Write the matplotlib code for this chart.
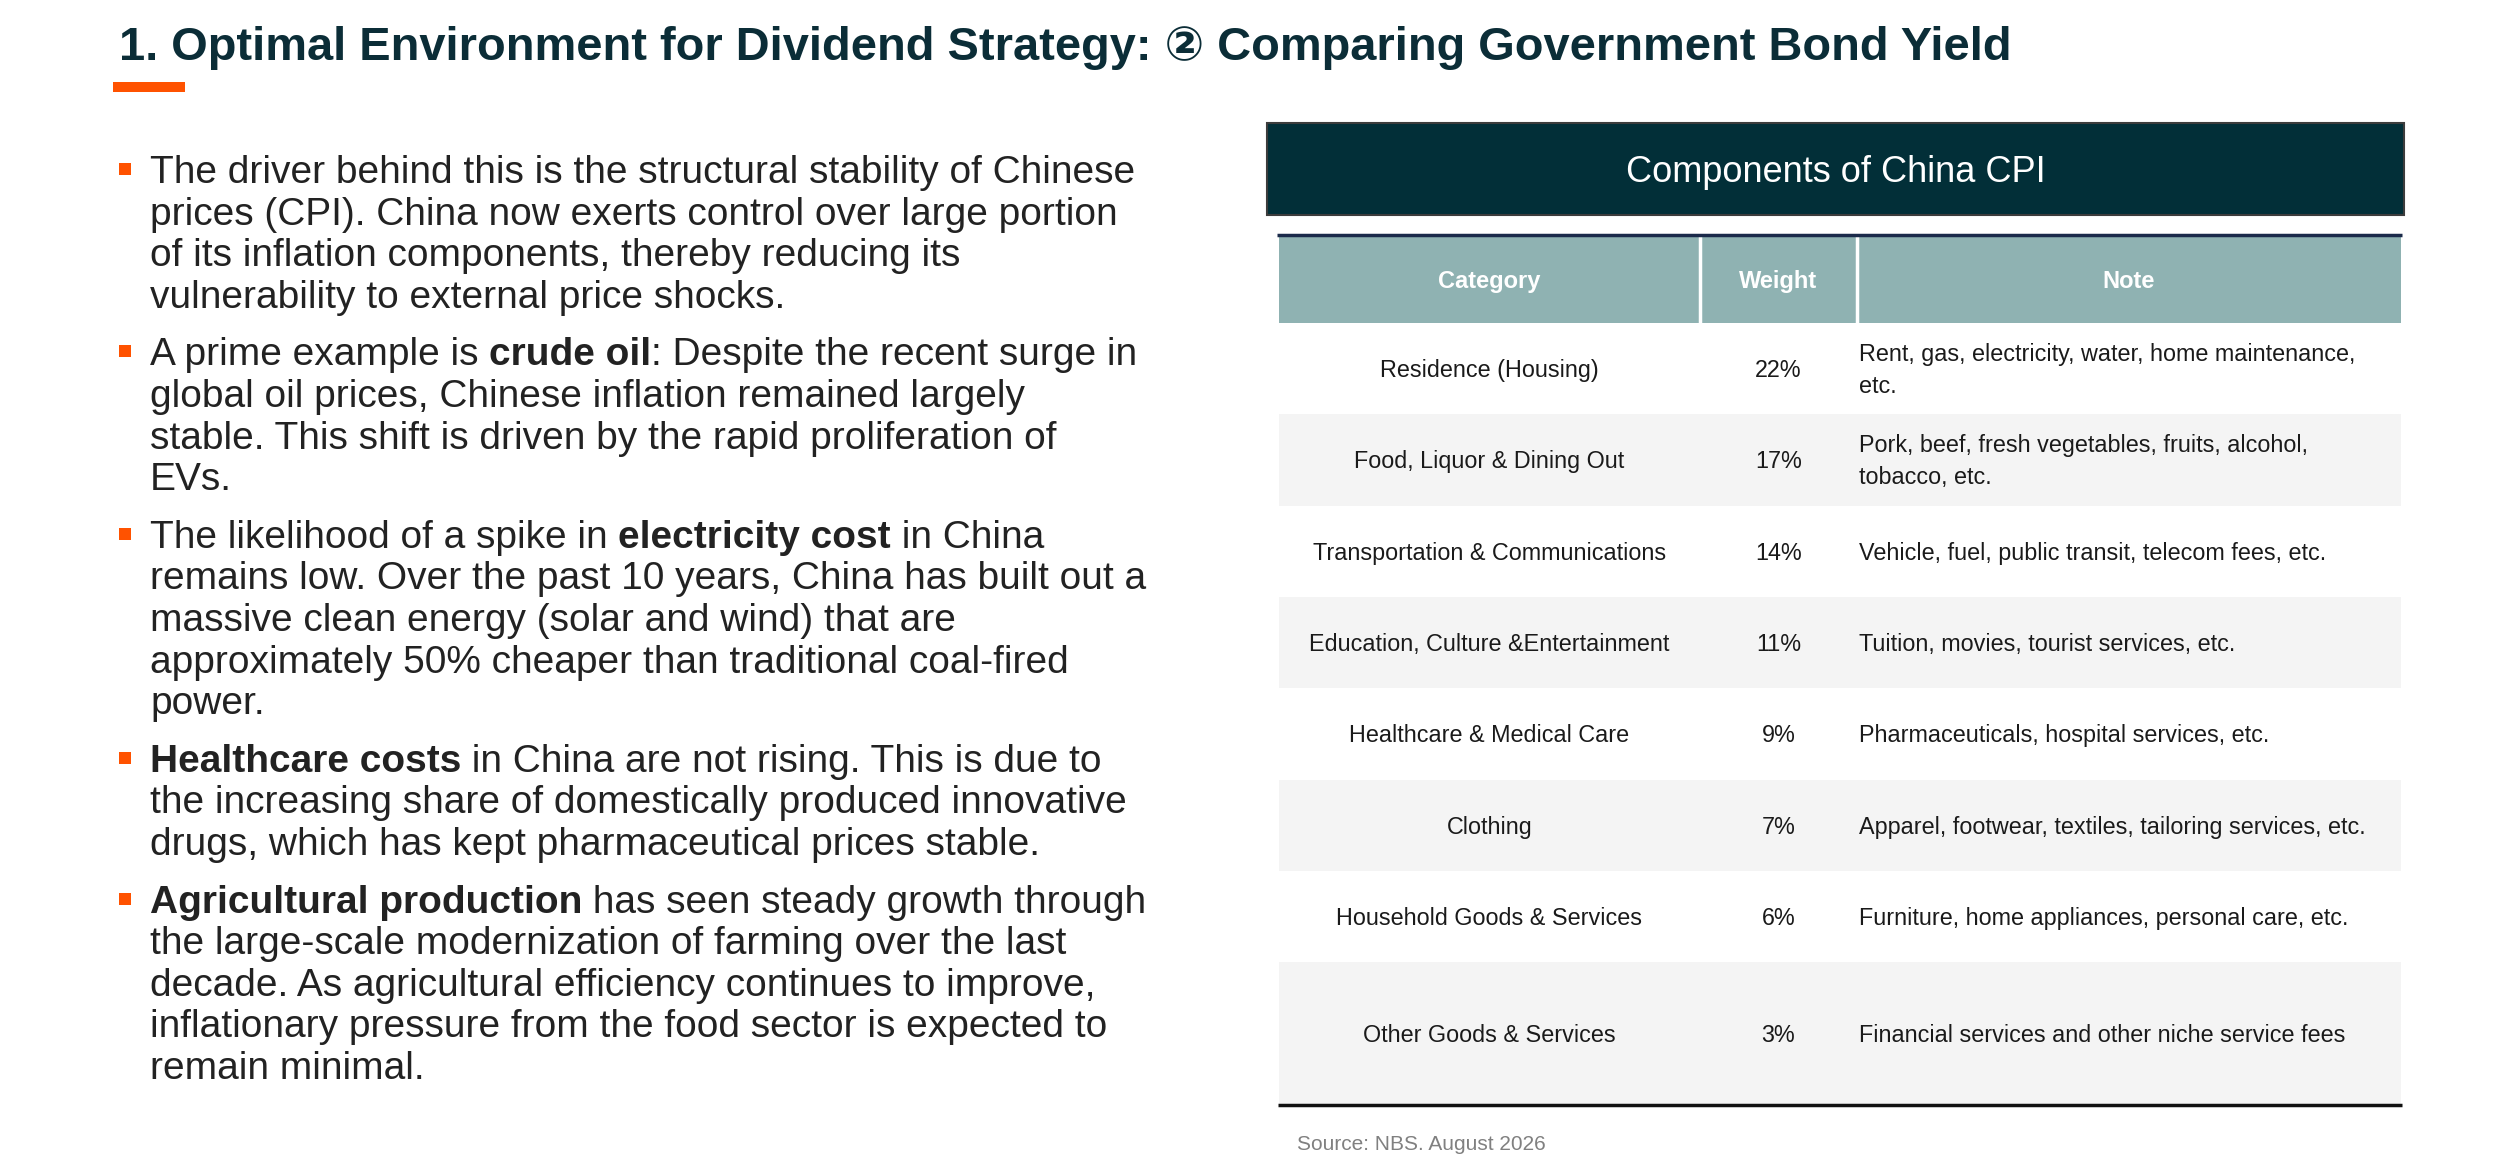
import matplotlib
matplotlib.use("Agg")
import matplotlib.pyplot as plt
from matplotlib.patches import Rectangle

plt.rcParams['font.family'] = ['Liberation Sans', 'DejaVu Sans']

# ---- content ----
title = "1. Optimal Environment for Dividend Strategy: \u2461 Comparing Government Bond Yield"
table_title = "Components of China CPI"
columns = ["Category", "Weight", "Note"]
categories = ["Residence (Housing)", "Food, Liquor & Dining Out",
              "Transportation & Communications", "Education, Culture &Entertainment",
              "Healthcare & Medical Care", "Clothing", "Household Goods & Services",
              "Other Goods & Services"]
weights = ["22%", "17%", "14%", "11%", "9%", "7%", "6%", "3%"]
notes = [["Rent, gas, electricity, water, home maintenance,", "etc."],
         ["Pork, beef, fresh vegetables, fruits, alcohol,", "tobacco, etc."],
         ["Vehicle, fuel, public transit, telecom fees, etc."],
         ["Tuition, movies, tourist services, etc."],
         ["Pharmaceuticals, hospital services, etc."],
         ["Apparel, footwear, textiles, tailoring services, etc."],
         ["Furniture, home appliances, personal care, etc."],
         ["Financial services and other niche service fees"]]
source = "Source: NBS. August 2026"

# **...** marks bold words
bullets = [
    ["The driver behind this is the structural stability of Chinese",
     "prices (CPI). China now exerts control over large portion",
     "of its inflation components, thereby reducing its",
     "vulnerability to external price shocks."],
    ["A prime example is **crude oil**: Despite the recent surge in",
     "global oil prices, Chinese inflation remained largely",
     "stable. This shift is driven by the rapid proliferation of",
     "EVs."],
    ["The likelihood of a spike in **electricity cost** in China",
     "remains low. Over the past 10 years, China has built out a",
     "massive clean energy (solar and wind) that are",
     "approximately 50% cheaper than traditional coal-fired",
     "power."],
    ["**Healthcare costs** in China are not rising. This is due to",
     "the increasing share of domestically produced innovative",
     "drugs, which has kept pharmaceutical prices stable."],
    ["**Agricultural production** has seen steady growth through",
     "the large-scale modernization of farming over the last",
     "decade. As agricultural efficiency continues to improve,",
     "inflationary pressure from the food sector is expected to",
     "remain minimal."],
]

DARK = "#022f38"
ORANGE = "#ff5200"
HEAD = "#8fb2b2"
GREY_ROW = "#f4f4f4"

fig = plt.figure(figsize=(25, 11.59), dpi=100)
ax = fig.add_axes([0, 0, 1, 1])
ax.set_xlim(0, 2500)
ax.set_ylim(1159, 0)
ax.axis('off')
renderer = fig.canvas.get_renderer()

# title + accent bar
ax.text(119, 60, title, fontsize=33.8, fontweight='bold', color="#0b2d37", va='baseline')
ax.add_patch(Rectangle((113, 82), 72, 10, color=ORANGE, lw=0))


def seg_width(s, weight, size):
    a = ax.text(0, 0, "|" + s + "|", fontsize=size, fontweight=weight)
    b = ax.text(0, 0, "||", fontsize=size, fontweight=weight)
    w = a.get_window_extent(renderer).width - b.get_window_extent(renderer).width
    a.remove()
    b.remove()
    return w


# bullet list
body_size = 28
line_h = 41.6
para_gap = 16
y = 183
for para in bullets:
    ax.add_patch(Rectangle((119, y - 20), 12, 12, color=ORANGE, lw=0))
    for line in para:
        x = 150
        parts = line.split("**")
        for k, part in enumerate(parts):
            if not part:
                continue
            wt = 'bold' if k % 2 == 1 else 'normal'
            ax.text(x, y, part, fontsize=body_size, fontweight=wt, color="#222222", va='baseline')
            x += seg_width(part, wt, body_size)
        y += line_h
    y += para_gap

# table title box
box_l, box_r = 1267, 2404
ax.add_patch(Rectangle((box_l, 123), box_r - box_l, 92, facecolor=DARK, edgecolor="#3c3c3c", lw=1.5))
ax.text((box_l + box_r) / 2, 172, table_title, fontsize=26, color='white', ha='center', va='center')

# table
tab_l, sep1, sep2, tab_r = 1279, 1700, 1857, 2401
head_top, head_bot = 236, 323
row_h = 91.3
bottom = 1105
cell_size = 16.8
cap_half = cell_size * 100 / 72 * 0.716 / 2

ax.add_patch(Rectangle((tab_l, head_top), tab_r - tab_l, head_bot - head_top, color=HEAD, lw=0))
for sx in (sep1, sep2):
    ax.plot([sx, sx], [head_top, head_bot], color='white', lw=2.5)
ax.plot([tab_l - 2, tab_r + 1], [234.5, 234.5], color="#1b2a4a", lw=2.5, solid_capstyle='butt')

col_centers = [(tab_l + sep1) / 2, (sep1 + sep2) / 2, (sep2 + tab_r) / 2]
for cx, name in zip(col_centers, columns):
    ax.text(cx, (head_top + head_bot) / 2 + cap_half, name, fontsize=17, fontweight='bold',
            color='white', ha='center', va='baseline')

n = len(categories)
for i in range(n):
    top = head_bot + i * row_h
    h = row_h if i < n - 1 else bottom - top
    if i % 2 == 1:
        ax.add_patch(Rectangle((tab_l, top), tab_r - tab_l, h, color=GREY_ROW, lw=0))
    cy = top + h / 2 + cap_half
    ax.text(col_centers[0], cy, categories[i], fontsize=cell_size, color="#1a1a1a", ha='center', va='baseline')
    ax.text(col_centers[1], cy, weights[i], fontsize=cell_size, color="#1a1a1a", ha='center', va='baseline')
    nl = notes[i]
    for j, txt in enumerate(nl):
        ly = cy + (j - (len(nl) - 1) / 2) * 32
        ax.text(sep2 + 2, ly, txt, fontsize=cell_size, color="#1a1a1a", ha='left', va='baseline')

ax.plot([tab_l - 1, tab_r + 1], [bottom, bottom], color="#111111", lw=2.5, solid_capstyle='butt')

ax.text(1297, 1150, source, fontsize=15, color="#808080", va='baseline')

fig.savefig("out.png", dpi=100)
